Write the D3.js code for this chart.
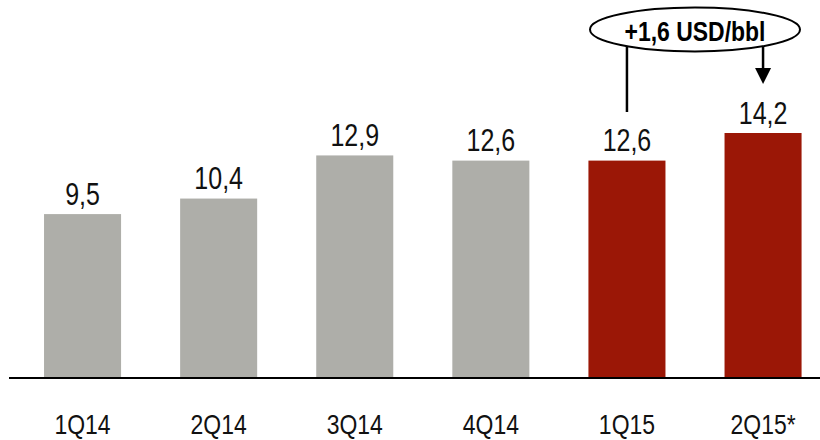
<!DOCTYPE html>
<html>
<head>
<meta charset="utf-8">
<script src="https://cdn.jsdelivr.net/npm/d3@7"></script>
<style>
html,body{margin:0;padding:0;background:#fff;}
svg{display:block;font-family:"Liberation Sans",Arial,sans-serif;}
</style>
</head>
<body>
<svg id="chart" width="820" height="440"></svg>
<script>
const categories = ["1Q14","2Q14","3Q14","4Q14","1Q15","2Q15*"];
const values = [9.5, 10.4, 12.9, 12.6, 12.6, 14.2];
const valueLabels = ["9,5","10,4","12,9","12,6","12,6","14,2"];
const highlighted = [false,false,false,false,true,true];
const annotationText = "+1,6 USD/bbl";

const NARROW = 0.82;
const svg = d3.select("#chart");
const x = d3.scaleBand().domain(categories).range([14.5, 831.1]).paddingInner(0.434).paddingOuter(0.217);
const y = d3.scaleLinear().domain([0, 14.2]).range([378, 133]);

const data = categories.map((c,i)=>({c, v: values[i], lab: valueLabels[i], hi: highlighted[i]}));

svg.selectAll("rect.bar").data(data).enter().append("rect")
  .attr("class","bar")
  .attr("x", d=>x(d.c))
  .attr("width", x.bandwidth())
  .attr("y", d=>y(d.v))
  .attr("height", d=>y(0)-y(d.v))
  .attr("fill", d=>d.hi ? "#9b1706" : "#aeaea9");

svg.selectAll("g.val").data(data).enter().append("g")
  .attr("class","val")
  .attr("transform", d=>`translate(${x(d.c)+x.bandwidth()/2},${y(d.v)-9.5}) scale(${NARROW},1)`)
  .append("text")
  .attr("text-anchor","middle")
  .attr("font-size", 30.5)
  .attr("fill","#111")
  .text(d=>d.lab);

// baseline axis
svg.append("line").attr("x1",9).attr("x2",820).attr("y1",y(0)).attr("y2",y(0))
  .attr("stroke","#000").attr("stroke-width",2);

// category labels (narrow)
svg.selectAll("g.cat").data(data).enter().append("g")
  .attr("class","cat")
  .attr("transform", d=>`translate(${x(d.c)+x.bandwidth()/2},434) scale(${NARROW},1)`)
  .append("text")
  .attr("text-anchor","middle")
  .attr("font-size", 28)
  .attr("fill","#111")
  .text(d=>d.c);

// annotation
const xa = x("1Q15")+x.bandwidth()/2;
const xb = x("2Q15*")+x.bandwidth()/2;
const cx = 695, cy = 29.5, rx = 105, ry = 22;
svg.append("line").attr("x1",xa).attr("x2",xa).attr("y1",cy+Math.sqrt(1-Math.pow((xa-cx)/rx,2))*ry).attr("y2",112)
  .attr("stroke","#000").attr("stroke-width",2.5);
const ybStart = cy+Math.sqrt(1-Math.pow((xb-cx)/rx,2))*ry;
svg.append("line").attr("x1",xb).attr("x2",xb).attr("y1",ybStart).attr("y2",70)
  .attr("stroke","#000").attr("stroke-width",2.5);
svg.append("path").attr("d",`M${xb-8},68 L${xb+8},68 L${xb},84 Z`).attr("fill","#000");
svg.append("ellipse").attr("cx",cx).attr("cy",cy).attr("rx",rx).attr("ry",ry)
  .attr("fill","#fff").attr("stroke","#000").attr("stroke-width",2);
svg.append("g").attr("transform",`translate(${cx},41) scale(${NARROW},1)`)
  .append("text").attr("text-anchor","middle")
  .attr("font-size",28).attr("font-weight","bold").attr("fill","#000")
  .text(annotationText);
</script>
</body>
</html>
